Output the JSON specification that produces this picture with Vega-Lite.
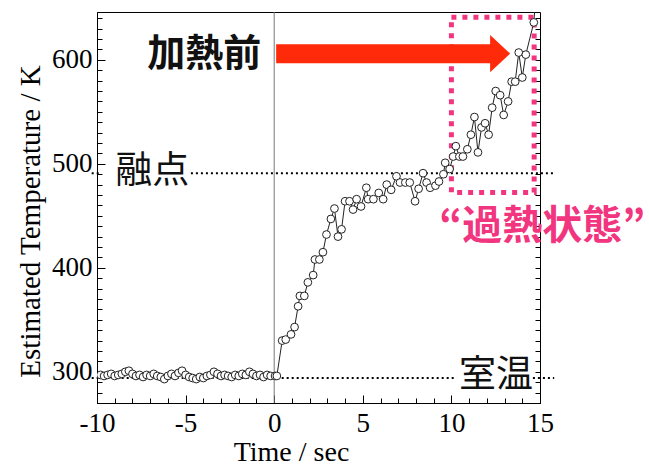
{
  "$schema": "https://vega.github.io/schema/vega-lite/v6.json",
  "width": 443,
  "height": 391,
  "autosize": {"type": "none"},
  "padding": {"left": 97, "top": 12, "right": 109, "bottom": 64},
  "background": "white",
  "config": {
    "view": {"stroke": "#000", "strokeWidth": 1},
    "axis": {"domainColor": "#000", "tickColor": "#000", "labelColor": "#000", "titleColor": "#000", "labelFont": "Liberation Serif", "titleFont": "Liberation Serif", "titleFontWeight": "normal", "grid": false, "labelFlush": false, "tickWidth": 1}
  },
  "datasets": {
    "series": [
      {"t": -9.8, "v": 297}, {"t": -9.6, "v": 296}, {"t": -9.4, "v": 297}, {"t": -9.2, "v": 298}, {"t": -9.0, "v": 296},
      {"t": -8.8, "v": 297}, {"t": -8.6, "v": 298}, {"t": -8.4, "v": 300}, {"t": -8.2, "v": 301}, {"t": -8.0, "v": 298},
      {"t": -7.8, "v": 296}, {"t": -7.6, "v": 297}, {"t": -7.4, "v": 295}, {"t": -7.2, "v": 297}, {"t": -7.0, "v": 296},
      {"t": -6.8, "v": 298}, {"t": -6.6, "v": 296}, {"t": -6.4, "v": 295}, {"t": -6.2, "v": 293}, {"t": -6.0, "v": 296},
      {"t": -5.8, "v": 298}, {"t": -5.6, "v": 296}, {"t": -5.4, "v": 299}, {"t": -5.2, "v": 301}, {"t": -5.0, "v": 297},
      {"t": -4.8, "v": 295}, {"t": -4.6, "v": 294}, {"t": -4.4, "v": 293}, {"t": -4.2, "v": 295}, {"t": -4.0, "v": 294},
      {"t": -3.8, "v": 296}, {"t": -3.6, "v": 297}, {"t": -3.4, "v": 300}, {"t": -3.2, "v": 298}, {"t": -3.0, "v": 296},
      {"t": -2.8, "v": 297}, {"t": -2.6, "v": 296}, {"t": -2.4, "v": 295}, {"t": -2.2, "v": 297}, {"t": -2.0, "v": 296},
      {"t": -1.8, "v": 298}, {"t": -1.6, "v": 297}, {"t": -1.4, "v": 300}, {"t": -1.2, "v": 298}, {"t": -1.0, "v": 296},
      {"t": -0.8, "v": 297}, {"t": -0.6, "v": 295}, {"t": -0.4, "v": 297}, {"t": -0.2, "v": 296},
      {"t": 0.05, "v": 296}, {"t": 0.15, "v": 296}, {"t": 0.45, "v": 330}, {"t": 0.65, "v": 331}, {"t": 0.95, "v": 336},
      {"t": 1.15, "v": 343}, {"t": 1.35, "v": 363}, {"t": 1.45, "v": 373}, {"t": 1.7, "v": 373}, {"t": 1.9, "v": 386},
      {"t": 2.2, "v": 393}, {"t": 2.3, "v": 408}, {"t": 2.55, "v": 408}, {"t": 2.75, "v": 415}, {"t": 2.95, "v": 432},
      {"t": 3.2, "v": 447}, {"t": 3.4, "v": 457}, {"t": 3.6, "v": 430}, {"t": 3.8, "v": 437}, {"t": 4.0, "v": 464},
      {"t": 4.25, "v": 464}, {"t": 4.45, "v": 456}, {"t": 4.65, "v": 466}, {"t": 4.9, "v": 459}, {"t": 5.2, "v": 477},
      {"t": 5.3, "v": 466}, {"t": 5.6, "v": 466}, {"t": 5.9, "v": 472}, {"t": 6.15, "v": 466}, {"t": 6.35, "v": 480},
      {"t": 6.6, "v": 475}, {"t": 6.9, "v": 488}, {"t": 7.1, "v": 482}, {"t": 7.4, "v": 482}, {"t": 7.65, "v": 482},
      {"t": 7.95, "v": 464}, {"t": 8.15, "v": 476}, {"t": 8.4, "v": 491}, {"t": 8.6, "v": 482}, {"t": 8.8, "v": 477},
      {"t": 9.1, "v": 479}, {"t": 9.3, "v": 483}, {"t": 9.55, "v": 490}, {"t": 9.65, "v": 501}, {"t": 9.9, "v": 495},
      {"t": 10.1, "v": 507}, {"t": 10.25, "v": 517}, {"t": 10.45, "v": 507}, {"t": 10.65, "v": 507}, {"t": 10.9, "v": 514},
      {"t": 11.1, "v": 528}, {"t": 11.3, "v": 545}, {"t": 11.5, "v": 511}, {"t": 11.7, "v": 535}, {"t": 11.9, "v": 539},
      {"t": 12.1, "v": 528}, {"t": 12.3, "v": 554}, {"t": 12.5, "v": 570}, {"t": 12.75, "v": 566}, {"t": 12.95, "v": 547},
      {"t": 13.2, "v": 560}, {"t": 13.4, "v": 579}, {"t": 13.6, "v": 579}, {"t": 13.8, "v": 607}, {"t": 14.0, "v": 583},
      {"t": 14.2, "v": 605}, {"t": 14.65, "v": 636}, {"t": 14.95, "v": 700}
    ],
    "refs": [
      {"name": "melt", "t": -10.3, "t2": -9.9, "v": 491},
      {"name": "melt", "t": -4.7, "t2": 15.8, "v": 491},
      {"name": "room", "t": -10.3, "t2": 10.3, "v": 294},
      {"name": "room", "t": 14.6, "t2": 15.8, "v": 294}
    ]
  },
  "encoding": {
    "x": {"field": "t", "type": "quantitative", "scale": {"domain": [-10, 15], "nice": false, "zero": false}, "axis": null},
    "y": {"field": "v", "type": "quantitative", "scale": {"domain": [270, 646], "nice": false, "zero": false}, "axis": null}
  },
  "layer": [
    {
      "data": {"values": [{"t": 0, "v": 270, "v2": 646}]},
      "mark": {"type": "rule", "color": "#777", "strokeWidth": 1},
      "encoding": {
        "x": {"field": "t", "type": "quantitative", "scale": {"domain": [-10, 15], "nice": false, "zero": false},
              "axis": {"orient": "bottom", "title": null, "labels": false, "domain": false, "values": [-10, -5, 0, 5, 10, 15], "offset": -8, "tickSize": 8}},
        "y": {"field": "v", "type": "quantitative", "scale": {"domain": [270, 646], "nice": false, "zero": false},
              "axis": {"orient": "left", "title": null, "labels": false, "domain": false, "values": [300, 400, 500, 600], "offset": -8, "tickSize": 8}},
        "y2": {"field": "v2"}
      }
    },
    {
      "data": {"name": "refs"},
      "mark": {"type": "rule", "color": "#000", "strokeWidth": 2, "strokeDash": [2, 3]},
      "encoding": {
        "x2": {"field": "t2"},
        "y": {"field": "v", "type": "quantitative", "scale": {"domain": [270, 646], "nice": false, "zero": false},
              "axis": {"orient": "right", "title": null, "labels": false, "domain": false, "values": [270, 280, 290, 300, 310, 320, 330, 340, 350, 360, 370, 380, 390, 400, 410, 420, 430, 440, 450, 460, 470, 480, 490, 500, 510, 520, 530, 540, 550, 560, 570, 580, 590, 600, 610, 620, 630, 640], "offset": -5, "tickSize": 5}}
      }
    },
    {
      "data": {"values": [{"t": 10.0, "t2": 14.67, "v": 472.5, "v2": 641}]},
      "mark": {"type": "rect", "fill": null, "stroke": "#f2357f", "strokeWidth": 5, "strokeDash": [5, 6]},
      "encoding": {"x2": {"field": "t2"}, "y2": {"field": "v2"}}
    },
    {
      "data": {"values": [{"t": 0.11, "t2": 12.4, "v": 605.8}]},
      "mark": {"type": "rule", "color": "#ff2a0a", "strokeWidth": 19, "strokeCap": "butt"},
      "encoding": {"x2": {"field": "t2"}}
    },
    {
      "data": {"values": [{"t": 12.75, "v": 606}]},
      "mark": {"type": "point", "shape": "M-0.5,-0.93L0.5,0L-0.5,0.93Z", "filled": true, "color": "#ff2a0a", "opacity": 1, "size": 1600, "strokeWidth": 0}
    },
    {
      "data": {"name": "series"},
      "mark": {"type": "line", "color": "#222", "strokeWidth": 1, "clip": true},
      "encoding": {
        "x": {"field": "t", "type": "quantitative", "scale": {"domain": [-10, 15], "nice": false, "zero": false},
              "axis": {"orient": "bottom", "title": null, "labels": false, "domain": false, "values": [-10, -9, -8, -7, -6, -5, -4, -3, -2, -1, 0, 1, 2, 3, 4, 5, 6, 7, 8, 9, 10, 11, 12, 13, 14, 15], "offset": -5, "tickSize": 5}},
        "y": {"field": "v", "type": "quantitative", "scale": {"domain": [270, 646], "nice": false, "zero": false},
              "axis": {"orient": "left", "title": null, "labels": false, "domain": false, "values": [270, 280, 290, 300, 310, 320, 330, 340, 350, 360, 370, 380, 390, 400, 410, 420, 430, 440, 450, 460, 470, 480, 490, 500, 510, 520, 530, 540, 550, 560, 570, 580, 590, 600, 610, 620, 630, 640], "offset": -5, "tickSize": 5}}
      }
    },
    {
      "data": {"name": "series"},
      "mark": {"type": "point", "filled": true, "fill": "white", "stroke": "#222", "strokeWidth": 1, "opacity": 1, "size": 60, "clip": true},
      "encoding": {
        "x": {"field": "t", "type": "quantitative", "scale": {"domain": [-10, 15], "nice": false, "zero": false},
              "axis": {"orient": "bottom", "title": "Time / sec", "values": [-10, -5, 0, 5, 10, 15], "ticks": false, "labelPadding": 7, "labelFontSize": 27, "titleFontSize": 28, "titlePadding": 2, "titleX": 194, "labelExpr": "datum.value < 0 ? '-' + abs(datum.value) : datum.label"}},
        "y": {"field": "v", "type": "quantitative", "scale": {"domain": [270, 646], "nice": false, "zero": false},
              "axis": {"orient": "left", "title": "Estimated Temperature / K", "values": [300, 400, 500, 600], "ticks": false, "labelPadding": 5, "labelFontSize": 27, "titleFontSize": 29, "titlePadding": 6, "titleY": 209}}
      }
    },
    {
      "data": {"values": [{"t": -3.95, "v": 605, "label": "加熱前"}]},
      "mark": {"type": "text", "font": "Noto Sans CJK JP", "fontWeight": "bold", "fontSize": 38, "align": "center", "baseline": "middle", "color": "#111"},
      "encoding": {"text": {"field": "label"}}
    },
    {
      "data": {"values": [{"t": -6.88, "v": 492.6, "label": "融点"}, {"t": 12.52, "v": 295.5, "label": "室温"}]},
      "mark": {"type": "text", "font": "Noto Sans CJK JP", "fontWeight": "normal", "fontSize": 37, "align": "center", "baseline": "middle", "color": "#111"},
      "encoding": {"text": {"field": "label"}}
    },
    {
      "data": {"values": [{"t": 15.13, "v": 439, "label": "“過熱状態”"}]},
      "mark": {"type": "text", "font": "Noto Sans CJK JP", "fontWeight": "bold", "fontSize": 40, "align": "center", "baseline": "middle", "color": "#f2357f"},
      "encoding": {"text": {"field": "label"}}
    }
  ],
  "resolve": {"axis": {"x": "independent", "y": "independent"}}
}
